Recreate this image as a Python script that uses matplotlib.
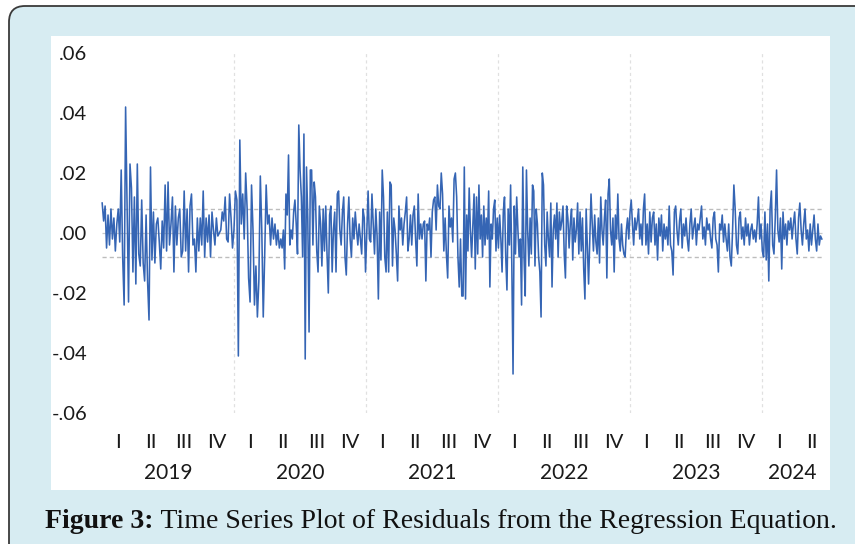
import matplotlib
matplotlib.use("Agg")
import matplotlib.pyplot as plt
import matplotlib.transforms as mtransforms
from matplotlib.patches import FancyBboxPatch, Rectangle
import numpy as np
import pandas as pd

# ---------------- data (residuals, in thousandths) ----------------
segment_bounds = ["2019-01-02", "2020-05-10", "2021-09-26", "2023-02-10", "2024-06-14"]

resid_seg1 = [10, 4, 9, -5, 6, -4, 8, -2, 5, -6, 3, 8, -3, 21, -8, -24, 42, 9, -23, 23, 15, -13, 12,
              -17, 23, -7, -11, 11, -10, -16, 6, -16, -29, 22, -9, 7, -10, 3, 5, -3, -12, 4, -5, 16,
              -6, 17, -4, 3, 12, -13, 9, -4, 5, 8, -8, -6, 14, -6, 8, -13, 9, 13, -4, -2, -13, 5, -6,
              5, -4, 14, -8, 5, -3, 6, -8, 7, 1, -4, 5, -1, 0, 1, 7, 4, 12, -2, -3, 13, 5, -5, 1, 14,
              11, -41, 31, 3, 13, -2, 20, 8, -15, -23, 16, 1, -24, -11, -28, -16, 19, 1, -28, -7, 16,
              3, 6, -4, 5, -2, 3, -4, 1, -5]
resid_seg2 = [-2, -5, 1, -12, 13, 6, 26, -4, 1, -2, 7, 11, 3, -7, 36, 21, 12, -8, 33, -42, 22, 5, -33,
              21, 21, -4, 17, 12, -6, -13, 9, 3, -11, 8, -6, 9, -7, -20, 6, 9, -13, 1, 7, -13, 13, 14,
              1, -4, 7, 12, -8, -14, 3, 12, -2, -8, 5, -2, 7, 1, -4, 3, -2, -7, 8, 5, -13, 1, 14, -2,
              -3, 13, 3, -7, 8, -1, -22, 7, -9, 21, 12, -8, -13, 7, -13, 17, 16, -11, 5, 1, -7, -16, 9,
              1, 5, -4, 3, 7, 12, -6, -2, 6, -4, 6, 9, -2, -11, 13, -2, 3, -2, 3, 4, -16, 3, 1, 5, -8,
              7, 11, 12, 1, 16, 9, 8, 20, 13, -6, 5, -7, -15, 9, 2, 5, -3, 18, 20, 12, -8, -18, -2, -21]
resid_seg3 = [-21, 22, -22, 6, -6, 15, 1, -8, 3, 13, -12, 12, -7, 16, -2, 6, -8, 9, -4, 5, -2, 14, -18,
              3, -2, 8, 11, -6, 5, -5, 6, -2, -13, 7, 12, -8, -19, 8, -4, 16, -11, -47, 9, -7, 12, 1,
              -8, -2, -24, 22, -8, -21, 21, 1, -11, 5, -7, 16, 14, -11, 8, 3, -8, -13, -28, 20, 16, -4,
              -11, 7, -2, -8, 10, -18, 1, 6, -2, 10, -8, 7, 1, 4, 9, -7, -15, 9, 5, -5, 3, 8, -9, 5,
              -3, 1, 10, -7, 7, -6, 5, -12, -22, 8, -4, -17, -2, 13, 3, -6, 6, -3, -7, 5, -10, 12, 1,
              -4, 5, 11, -15, 13, 18, 1, -4, 5, -13, 6, -2, 13, -2, -6, 3, -4, -7, -8, 1, 5, -2, 7, 11,
              3, -4, 5, 1, 4, 8, -2, 3, -4, 8]
resid_seg4 = [13, -4, 3, -7, 7, -3, 5, 7, -4, 3, -9, 5, -1, 6, -6, 3, -2, 2, -4, 9, -4, -6, -14, 7, 9,
              1, -4, 4, 8, -5, 3, -1, 5, -2, -6, 3, 8, -2, 2, 5, -4, 3, 1, 5, 9, -2, 2, -4, 5, 1, 3,
              -2, -5, 5, 7, -2, -4, -13, 3, 1, 6, -3, 3, -2, -6, 3, -8, -11, 1, 16, 8, -4, -7, 5, 7,
              -2, 2, -4, 5, -1, 3, -4, 1, 3, -2, 1, -3, 3, 12, -2, 3, -6, -8, 7, -9, 3, -16, 8, 14,
              -4, -7, 5, 21, 1, -3, 5, -12, 7, -2, 3, -4, 4, 1, 5, -2, 3, 7, -2, -7, 5, 10, 1, -4, 3,
              8, -2, 1, -6, 3, -4, 1, 6, -2, -6, 3, -4, -1, -2]

se_band = 0.0079
y_ticks = [0.06, 0.04, 0.02, 0.0, -0.02, -0.04, -0.06]
y_tick_labels = [".06", ".04", ".02", ".00", "-.02", "-.04", "-.06"]
years = [2019, 2020, 2021, 2022, 2023, 2024]
quarter_names = ["I", "II", "III", "IV"]
caption_bold = "Figure 3:"
caption_rest = " Time Series Plot of Residuals from the Regression Equation."

# ---------------- build series ----------------
segments = [resid_seg1, resid_seg2, resid_seg3, resid_seg4]
all_dates, all_vals = [], []
for i, seg in enumerate(segments):
    start = pd.Timestamp(segment_bounds[i])
    end = pd.Timestamp(segment_bounds[i + 1])
    if i < len(segments) - 1:
        d = pd.date_range(start, end, periods=len(seg) + 1)[:-1]
    else:
        d = pd.date_range(start, end, periods=len(seg))
    all_dates.extend(list(d))
    all_vals.extend(seg)
resid = pd.Series(np.array(all_vals, dtype=float) / 1000.0, index=pd.DatetimeIndex(all_dates))
first, last = resid.index[0], resid.index[-1]

# ---------------- figure ----------------
W, H = 855, 544
fig = plt.figure(figsize=(W / 100, H / 100), dpi=100)
fig.patch.set_facecolor("white")

bg = FancyBboxPatch((9, -30), 900, 568, boxstyle="round,pad=0,rounding_size=16",
                    transform=None, facecolor="#d7ecf2", edgecolor="#3a3a3a", lw=1.3, zorder=-10)
fig.add_artist(bg)
panel = Rectangle((51, H - 490), 779, 454, transform=None, facecolor="white",
                  edgecolor="none", zorder=-9)
fig.add_artist(panel)

ax = fig.add_axes([100 / W, 1 - 413 / H, 724 / W, 360 / H])
ax.set_facecolor("none")
for s in ax.spines.values():
    s.set_visible(False)

ax.set_ylim(-0.06, 0.06)
ax.set_xlim(first - pd.Timedelta(days=6), last + pd.Timedelta(days=6))

# vertical year grid
for yr in years[1:]:
    ax.axvline(pd.Timestamp(f"{yr}-01-01"), color="#e0e0e0", ls=(0, (2.5, 2.5)), lw=0.9, zorder=0)

ax.hlines(0, first, last, colors="#c8c8c8", lw=0.9, zorder=1)
ax.hlines([se_band, -se_band], first, last, colors="#bdbdbd", linestyles=(0, (3, 2.2)), lw=1.0, zorder=1)

ax.plot(resid.index, resid.values, color="#3565b4", lw=1.15, zorder=2)

# y ticks
ax.set_yticks(y_ticks)
ax.set_yticklabels(y_tick_labels)
ax.tick_params(axis="y", length=0, pad=9, labelsize=14.5, labelcolor="#1a1a1a")
for lab in ax.get_yticklabels():
    lab.set_fontfamily("Lato")

# quarter ticks
q_pos, q_lab = [], []
for yr in years:
    for q in range(4):
        qs = pd.Timestamp(year=yr, month=3 * q + 1, day=1)
        qe = qs + pd.DateOffset(months=3)
        if qs > last:
            break
        q_pos.append(qs + (qe - qs) / 2)
        q_lab.append(quarter_names[q])
ax.set_xticks(q_pos)
ax.set_xticklabels(q_lab)
ax.tick_params(axis="x", length=0, pad=15, labelsize=14.5, labelcolor="#1a1a1a")
for lab in ax.get_xticklabels():
    lab.set_fontfamily("Lato")

# year labels
trans = mtransforms.blended_transform_factory(ax.transData, ax.transAxes)
for yr in years:
    ys = max(pd.Timestamp(f"{yr}-01-01"), first)
    ye = min(pd.Timestamp(f"{yr + 1}-01-01"), last)
    mid = ys + (ye - ys) / 2
    ax.text(mid, -(473 - 413) / 360, str(yr), transform=trans, ha="center", va="center",
            fontsize=15, family="Lato", color="#1a1a1a")

# caption
t1 = fig.text(45 / W, 23 / H, caption_bold, fontsize=20, fontweight="bold",
              family="Liberation Serif", ha="left", va="center", color="#111111")
fig.canvas.draw()
bb = t1.get_window_extent(fig.canvas.get_renderer())
fig.text(bb.x1 / W, 23 / H, caption_rest, fontsize=20, family="Liberation Serif",
         ha="left", va="center", color="#111111")

fig.savefig("out.png", dpi=100)
